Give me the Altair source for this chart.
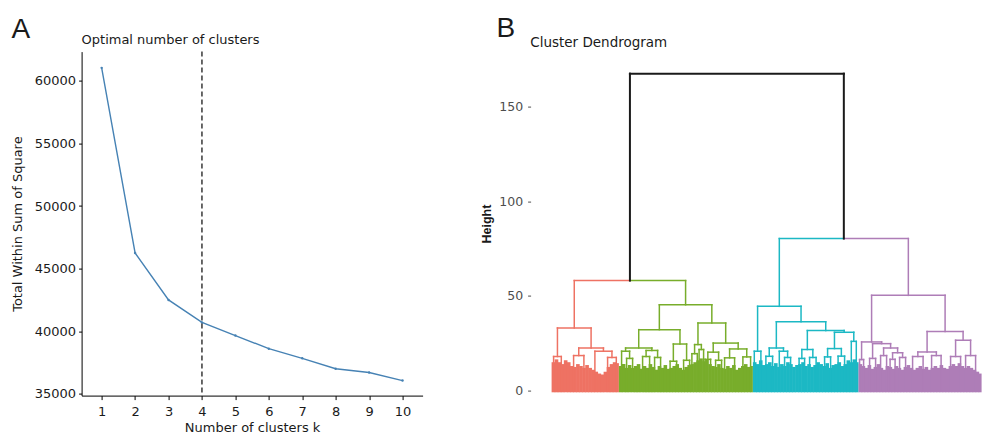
import altair as alt
import pandas as pd

# ---------------- Panel A : elbow plot ----------------
k_values = [1, 2, 3, 4, 5, 6, 7, 8, 9, 10]
wss_values = [61050, 46250, 42500, 40700, 39650, 38600, 37830, 37000, 36700, 36050]
optimal_k = [4]
a_y_ticks = [35000, 40000, 45000, 50000, 55000, 60000]

# ---------------- Panel B : dendrogram ----------------
cluster_names = ["c1", "c2", "c3", "c4"]
cluster_colors = ["#EE7263", "#78AD2B", "#1CB8C4", "#AE7DB7"]
cluster_start = [0, 67.3, 201.3, 307]
cluster_end = [67.3, 201.3, 307, 430]
b_y_ticks = [0, 50, 100, 150]

# dense lower part of the tree (top of leaf mass, per small bin)
sky_red = [15, 16.5, 15, 14, 16, 15, 13, 12.5, 14, 13, 12, 13.5, 12, 11, 10, 9, 8.5, 10, 12.5, 14, 15, 14.5]
sky_green = [13, 14, 12, 13.5, 12, 13, 14, 11.5, 13, 12, 14, 12.5, 11, 13, 12, 13.5, 11.5, 12, 13, 14,
             12, 11, 12.5, 13.5, 14, 15, 16, 17, 15.5, 16.5, 14, 13, 12.5, 14, 12, 11.5, 13, 12, 13.5,
             11, 12, 13, 14, 12.5, 13]
sky_cyan = [15, 14, 16, 13.5, 14, 15, 13, 14.5, 12.5, 14, 13, 15, 14, 12.5, 13.5, 14, 15, 13, 14, 12.5,
            13.5, 15, 14, 13, 14.5, 12, 13.5, 14, 15, 13, 14, 16, 15, 16.5, 15]
sky_purple = [14, 13, 12, 13.5, 11.5, 12.5, 14, 12, 11, 13, 12.5, 11.5, 13, 12, 11, 12.5, 13.5, 12, 11, 12,
              13, 11.5, 12.5, 11, 12, 13, 12, 13.5, 12, 11.5, 13, 14, 13, 14.5, 13, 12, 13, 12, 11, 10, 9]
sky_base = -0.9

# leaves (positions along the leaf axis)
leaf_names = ["r1", "r2", "r3", "r4", "r5", "r6a", "r6b",
              "ga1", "ga2a", "ga2b", "gb1a", "gb1b", "gb2a", "gb2b", "gc1", "gc2", "gd1", "gd2",
              "ge1", "ge2", "gf1", "gf2", "gg1a", "gg1b", "gg2a", "gg2b", "gi1", "gi2", "gj1", "gj2",
              "ca1", "ca2", "cc1a", "cc1b", "cc2a", "cc3a", "cc3b", "ce1a", "ce1b", "ce2a", "ce2b",
              "cg1", "cg2", "ch1", "ch2", "cf2a", "cf2b",
              "pa1", "pa2", "pc1", "pc2", "pe1", "pe2", "pg1", "pg2", "ph1", "ph2",
              "pk1", "pk2", "pl1", "pl2", "pm1", "pm2", "pn1", "pn2"]
leaf_x = [2, 9.7, 22, 32.3, 43.3, 56, 64.7,
          70, 75, 81, 91, 98, 103, 109, 118.5, 125, 132, 138,
          140.3, 145.7, 147.5, 152, 153.5, 159, 164, 170, 173, 183, 191.3, 199,
          202.7, 209.3, 214.3, 221, 227.7, 233, 239, 247.5, 253, 258, 264.5,
          273, 279, 286.5, 293, 299.7, 304.7,
          308, 312, 318, 324, 329, 335, 338.5, 343.5, 348, 354,
          361, 371.5, 380, 389.5, 399, 409, 414, 424]
leaf_cluster = (["c1"] * 7 + ["c2"] * 23 + ["c3"] * 17 + ["c4"] * 18)

# merges: name, left child, right child, merge height
merge_names = ["ra", "rb", "r6", "rc", "rd", "R",
               "ga2", "ga", "gb1", "gb2", "gb", "gL1", "gc", "gd", "gL2", "gL",
               "ge", "gf", "gR1", "gg1", "gg2", "gg", "gi", "gj", "gh", "gR2", "gR", "G", "LEFT",
               "cA", "cc1", "cc3", "cc2", "cC", "ce1", "ce2", "cE", "cg", "ch", "cf1", "cf2", "cF",
               "cD", "cB", "C",
               "pa", "pc", "pe", "pg", "ph", "pf", "pd", "pb", "pL", "pk", "pl", "pi", "pm", "pn",
               "pj", "pR", "P", "RIGHT", "ROOT"]
merge_left = ["r1", "r3", "r6a", "r5", "rb", "ra",
              "ga2a", "ga1", "gb1a", "gb2a", "gb1", "ga", "gc1", "gd1", "gc", "gL1",
              "ge1", "gf1", "ge", "gg1a", "gg2a", "gg1", "gi1", "gj1", "gi", "gg", "gR1", "gL", "R",
              "ca1", "cc1a", "cc3a", "cc2a", "cc1", "ce1a", "ce2a", "ce1", "cg1", "ch1", "cg", "cf2a", "cf1",
              "cE", "cC", "cA",
              "pa1", "pc1", "pe1", "pg1", "ph1", "pg", "pe", "pc", "pa", "pk1", "pl1", "pk", "pm1", "pn1",
              "pm", "pi", "pL", "C", "LEFT"]
merge_right = ["r2", "r4", "r6b", "r6", "rc", "rd",
               "ga2b", "ga2", "gb1b", "gb2b", "gb2", "gb", "gc2", "gd2", "gd", "gL2",
               "ge2", "gf2", "gf", "gg1b", "gg2b", "gg2", "gi2", "gj2", "gj", "gh", "gR2", "gR", "G",
               "ca2", "cc1b", "cc3b", "cc3", "cc2", "ce1b", "ce2b", "ce2", "cg2", "ch2", "ch", "cf2b", "cf2",
               "cF", "cD", "cB",
               "pa2", "pc2", "pe2", "pg2", "ph2", "ph", "pf", "pd", "pb", "pk2", "pl2", "pl", "pm2", "pn2",
               "pn", "pj", "pR", "P", "RIGHT"]
merge_height = [18.0, 18.5, 17.5, 20.8, 22.5, 33.1,
                17.0, 20.8, 18.0, 17.5, 21.2, 22.5, 15.5, 16.0, 24.6, 32.2,
                19.5, 21.7, 24.3, 16.5, 16.0, 20.3, 17.3, 17.8, 22.0, 25.1, 35.7, 45.3, 58.1,
                20.8, 18.1, 17.5, 20.8, 22.5, 17.0, 17.5, 21.7, 17.8, 18.2, 22.2, 26.0, 30.8,
                31.7, 36.3, 44.5,
                16.4, 17.0, 18.5, 16.5, 17.5, 20.0, 22.5, 24.8, 25.7, 18.0, 18.5, 20.4, 18.0, 18.5,
                26.6, 31.2, 50.3, 80.3, 167.4]

# ---------------- build tables ----------------
elbow = pd.DataFrame({"k": k_values, "wss": wss_values})
vline = pd.DataFrame({"k": optimal_k})

pos, hgt, grp = {}, {}, {}
for n, x, c in zip(leaf_names, leaf_x, leaf_cluster):
    pos[n], hgt[n], grp[n] = x, 0.0, c


def width_of(g):
    return 2.0 if g == "root" else 1.5


segs = []
for n, l, r, h in zip(merge_names, merge_left, merge_right, merge_height):
    pos[n] = (pos[l] + pos[r]) / 2
    hgt[n] = h
    grp[n] = grp[l] if grp[l] == grp[r] else "root"
    for ch in (l, r):
        segs.append({"x": pos[ch], "x2": pos[ch], "y": hgt[ch], "y2": h,
                     "grp": grp[ch], "w": width_of(grp[ch])})
    if grp[l] == grp[r]:
        segs.append({"x": pos[l], "x2": pos[r], "y": h, "y2": h,
                     "grp": grp[l], "w": width_of(grp[l])})
    else:
        for ch in (l, r):
            segs.append({"x": pos[ch], "x2": pos[n], "y": h, "y2": h,
                         "grp": grp[ch], "w": width_of(grp[ch])})
seg_df = pd.DataFrame(segs)

sky_rows = []
for cname, s, e, arr in zip(cluster_names, cluster_start, cluster_end,
                            [sky_red, sky_green, sky_cyan, sky_purple]):
    step = (e - s) / len(arr)
    for i, v in enumerate(arr):
        right = s + (i + 1) * step + (0.6 if i < len(arr) - 1 else 0)
        sky_rows.append({"x": s + i * step, "x2": right, "y": sky_base, "y2": v, "grp": cname})
sky_df = pd.DataFrame(sky_rows)

FONT = "DejaVu Sans"

# ---------------- Panel A chart ----------------
xa = alt.X("k:Q", scale=alt.Scale(domain=[0.4, 10.6], nice=False, zero=False),
           axis=alt.Axis(values=k_values, title="Number of clusters k", grid=False, labelFlush=False,
                         domainColor="black", tickColor="black", tickSize=4, labelPadding=6,
                         labelFont=FONT, labelFontSize=13, labelColor="#1a1a1a",
                         titleFont=FONT, titleFontSize=13, titleFontWeight="normal",
                         titleColor="#1a1a1a", titlePadding=3))
ya = alt.Y("wss:Q", scale=alt.Scale(domain=[34850, 62350], nice=False, zero=False),
           axis=alt.Axis(values=a_y_ticks, format="d", title="Total Within Sum of Square", grid=False,
                         domainColor="black", tickColor="black", tickSize=3, labelPadding=3,
                         labelFont=FONT, labelFontSize=13, labelColor="#1a1a1a",
                         titleFont=FONT, titleFontSize=13, titleFontWeight="normal",
                         titleColor="#1a1a1a", titleX=-64, titleY=172, titleAngle=-90,
                         titleAlign="center", titleBaseline="middle"))

line_a = alt.Chart(elbow).mark_line(color="#4682B4", strokeWidth=1.4).encode(x=xa, y=ya)
pts_a = alt.Chart(elbow).mark_point(color="#4682B4", filled=True, size=6, opacity=1).encode(x=xa, y=ya)
rule_a = alt.Chart(vline).mark_rule(color="#1a1a1a", strokeWidth=1.3, strokeDash=[5, 3]).encode(x=xa)
title_a = alt.Chart(pd.DataFrame({"t": ["Optimal number of clusters"]})).mark_text(
    font=FONT, fontSize=13, align="left", baseline="alphabetic", color="#1a1a1a"
).encode(x=alt.value(0), y=alt.value(-7.5), text="t:N")
tag_a = alt.Chart(pd.DataFrame({"t": ["A"]})).mark_text(
    font="Liberation Sans", fontSize=28, align="left", baseline="alphabetic", color="#1a1a1a"
).encode(x=alt.value(-70), y=alt.value(-14), text="t:N")

panel_a = alt.layer(line_a, pts_a, rule_a, title_a, tag_a).properties(width=341, height=344)

# ---------------- Panel B chart ----------------
xb = alt.X("x:Q", scale=alt.Scale(domain=[-11, 430], nice=False, zero=False), axis=None)
yb = alt.Y("y:Q", scale=alt.Scale(domain=[-2.64, 179.05], nice=False, zero=False),
           axis=alt.Axis(values=b_y_ticks, title="Height", grid=False, domain=False,
                         tickSize=3, tickColor="#4d4d4d", tickWidth=1, offset=10, labelPadding=5,
                         labelFont=FONT, labelFontSize=12.5, labelColor="#4d4d4d",
                         titleFont="Liberation Sans", titleFontSize=12.5, titleFontWeight="bold",
                         titleColor="#1a1a1a", titleX=-44, titleY=172, titleAngle=-90,
                         titleAlign="center", titleBaseline="middle"))
color_b = alt.Color("grp:N", scale=alt.Scale(domain=cluster_names + ["root"],
                                             range=cluster_colors + ["#1a1a1a"]), legend=None)

sky_b = alt.Chart(sky_df).mark_rect().encode(x=xb, x2="x2:Q", y=yb, y2="y2:Q", color=color_b)
tree_b = alt.Chart(seg_df).mark_rule(strokeCap="square").encode(
    x=xb, x2="x2:Q", y=yb, y2="y2:Q", color=color_b,
    strokeWidth=alt.StrokeWidth("w:Q", scale=None, legend=None))
title_b = alt.Chart(pd.DataFrame({"t": ["Cluster Dendrogram"]})).mark_text(
    font=FONT, fontSize=13.5, align="left", baseline="alphabetic", color="#1a1a1a"
).encode(x=alt.value(-10.3), y=alt.value(-4.2), text="t:N")
tag_b = alt.Chart(pd.DataFrame({"t": ["B"]})).mark_text(
    font="Liberation Sans", fontSize=28, align="left", baseline="alphabetic", color="#1a1a1a"
).encode(x=alt.value(-44), y=alt.value(-15), text="t:N")

panel_b = alt.layer(sky_b, tree_b, title_b, tag_b).properties(width=441, height=344)

chart = alt.hconcat(panel_a, panel_b, spacing=118, bounds="flush").properties(
    padding={"left": 11.6, "top": 14.6, "right": 0, "bottom": 0}
).configure_view(stroke=None)

chart.save("out.html", embed_options={"renderer": "svg", "actions": False})
